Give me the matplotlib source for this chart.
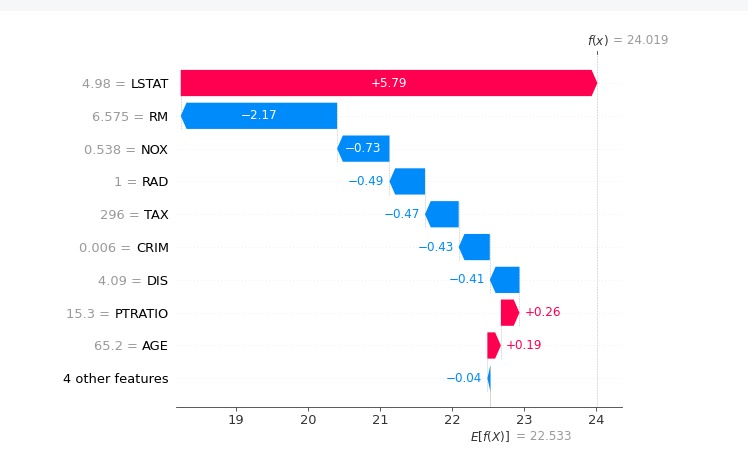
import matplotlib
matplotlib.use("Agg")
import matplotlib.pyplot as plt
import matplotlib.transforms as mtransforms
from matplotlib.patches import Rectangle
import numpy as np

# ---- data ----
features = ["LSTAT", "RM", "NOX", "RAD", "TAX", "CRIM", "DIS", "PTRATIO", "AGE", "4 other features"]
feature_values = ["4.98", "6.575", "0.538", "1", "296", "0.006", "4.09", "15.3", "65.2", None]
shap_values = [5.786, -2.171, -0.727, -0.494, -0.468, -0.432, -0.412, 0.258, 0.187, -0.041]
base_value = 22.533
fx_value = 24.019
xticks = [19, 20, 21, 22, 23, 24]

RED = "#ff0051"
BLUE = "#008bfb"
GREY = "#999999"
AXIS = "#333333"

W, H, DPI = 748, 458, 72
fig = plt.figure(figsize=(W / DPI, H / DPI), dpi=DPI)
fig.patches.append(Rectangle((0, 1 - 10.5 / H), 1, 10.5 / H, transform=fig.transFigure,
                             facecolor="#f6f7f9", edgecolor="none", zorder=-10))

ax_l, ax_r, ax_t, ax_b = 176, 622, 54, 407
ax = fig.add_axes([ax_l / W, (H - ax_b) / H, (ax_r - ax_l) / W, (ax_b - ax_t) / H])
ax.set_xlim(18.167, 24.361)
ax.set_ylim(-0.875, 9.884)

n = len(features)
rows = np.arange(n)[::-1]
bar_w = 0.8
xrange_ = ax.get_xlim()[1] - ax.get_xlim()[0]
ax_w_in = (ax_r - ax_l) / DPI
hl = 0.08 * xrange_ / ax_w_in
off = 5 / 72 * xrange_ / ax_w_in

for r in rows:
    ax.axhline(r, color="#cccccc", lw=0.5, dashes=(1, 5), zorder=-1)

fig.canvas.draw()
renderer = fig.canvas.get_renderer()
px_per_unit = (ax_r - ax_l) / xrange_

loc = fx_value
for i in range(n):
    v = shap_values[i]
    r = rows[i]
    loc -= v
    dist = abs(v)
    sgn = 1 if v >= 0 else -1
    col = RED if v >= 0 else BLUE
    ax.arrow(loc, r, sgn * max(dist - hl, 1e-6), 0, head_length=min(dist, hl),
             width=bar_w, head_width=bar_w, color=col, length_includes_head=False,
             linewidth=0)
    ax.plot([loc, loc], [r - 1 - 0.4, r + 0.4], color="#bbbbbb", linestyle="--",
            linewidth=0.5, zorder=-1)
    label = ("+" if v >= 0 else "\u2212") + "%.2f" % dist
    t = ax.text(loc + sgn * dist / 2, r, label, ha="center", va="center",
                color="white", fontsize=12)
    tw = t.get_window_extent(renderer=renderer).width
    if tw > dist * px_per_unit:
        t.remove()
        tip = loc + sgn * dist
        ax.text(tip + sgn * off, r, label, ha="left" if v >= 0 else "right",
                va="center", color=col, fontsize=12)

# y tick labels: black feature names, grey "value =" prefix to their left
ax.set_yticks(rows)
ax.set_yticklabels(features, fontsize=13, color="black")
ax.tick_params(axis="y", length=0, pad=7)

ax.set_xticks(xticks)
ax.set_xticklabels([str(x) for x in xticks], fontsize=13)
ax.tick_params(axis="x", color=AXIS, labelcolor=AXIS, length=3.5)

for s in ["left", "right", "top"]:
    ax.spines[s].set_visible(False)
ax.spines["bottom"].set_color(AXIS)

fig.canvas.draw()
ytl = ax.yaxis.get_majorticklabels()
yt_blend = mtransforms.blended_transform_factory(ax.transAxes, ax.transData)
for k, (fv, r) in enumerate(zip(feature_values, rows)):
    if fv is None:
        continue
    wname = ytl[k].get_window_extent(renderer=renderer).width
    ax.annotate(fv + " =", xy=(0, r), xycoords=yt_blend,
                xytext=(-(7 + wname + 4.5), 0), textcoords="offset points",
                ha="right", va="center_baseline", fontsize=13, color=GREY)

# base and f(x) lines
ax.axvline(base_value, 0, 1 / n, color="#bbbbbb", linestyle="--", linewidth=0.5, zorder=-1)
ax.axvline(fx_value, 0, 1, color="#bbbbbb", linestyle="--", linewidth=0.5, zorder=-1)
bt = mtransforms.blended_transform_factory(ax.transData, ax.transAxes)
ax.plot([fx_value, fx_value], [1, 1 + 3.5 / (ax_b - ax_t)], transform=bt, color=AXIS,
        lw=0.8, clip_on=False)

ax.annotate("$E[f(X)]$", xy=(base_value, 0), xycoords=bt, xytext=(-20, -29),
            textcoords="offset points", ha="left", va="center", fontsize=12, color=AXIS)
ax.annotate("= %.3f" % base_value, xy=(base_value, 0), xycoords=bt, xytext=(26, -29),
            textcoords="offset points", ha="left", va="center", fontsize=12, color=GREY)
ax.annotate("$f(x)$", xy=(fx_value, 1), xycoords=bt, xytext=(-10, 14),
            textcoords="offset points", ha="left", va="center", fontsize=12, color=AXIS)
ax.annotate("= %.3f" % fx_value, xy=(fx_value, 1), xycoords=bt, xytext=(16, 14),
            textcoords="offset points", ha="left", va="center", fontsize=12, color=GREY)

fig.savefig("out.png", dpi=DPI)
